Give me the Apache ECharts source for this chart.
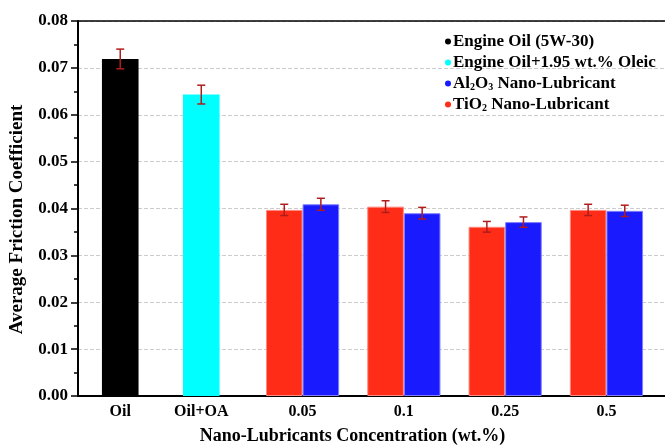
<!DOCTYPE html>
<html>
<head>
<meta charset="utf-8">
<script src="https://cdn.jsdelivr.net/npm/echarts@6/dist/echarts.min.js"></script>
<style>
  html, body { margin: 0; padding: 0; background: #fff; }
  #main { width: 665px; height: 447px; }
</style>
</head>
<body>
<div id="main"></div>
<script>
// category labels and where they sit on the x axis (Oil and Oil+OA are closer together)
var categories = ['Oil', 'Oil+OA', '0.05', '0.1', '0.25', '0.5'];
var catPos = [0.2, 1, 2, 3, 4, 5];

// average friction coefficient, with error (half-range)
var oilValue = [0.0719];
var oilErr = [0.0021];
var oaValue = [0.0643];
var oaErr = [0.0020];
var tioValue = [0.0397, 0.0404, 0.0361, 0.0397];
var tioErr = [0.0012, 0.00125, 0.00114, 0.0012];
var alValue = [0.0409, 0.0390, 0.0371, 0.0395];
var alErr = [0.00128, 0.00124, 0.0011, 0.0012];

var barW = 36.6;
var xMin = -0.217, xMax = 5.578;
var font = 'Liberation Serif';

function pts(pos, vals, errs) {
    var out = [];
    for (var i = 0; i < vals.length; i++) {
        out.push([pos[i], vals[i], errs[i]]);
    }
    return out;
}
var nanoPos = catPos.slice(2);

function errSeries(data, off) {
    return {
        type: 'custom',
        xAxisIndex: 0,
        z: 10,
        silent: true,
        data: data,
        renderItem: function(params, api) {
            var x = api.value(0), y = api.value(1), e = api.value(2);
            var hi = api.coord([x, y + e]);
            var lo = api.coord([x, y - e]);
            var cx = hi[0] + off;
            var st = { stroke: '#b01c1c', lineWidth: 1.5 };
            return {
                type: 'group',
                children: [
                    { type: 'line', shape: { x1: cx, y1: hi[1], x2: cx, y2: lo[1] }, style: st },
                    { type: 'line', shape: { x1: cx - 4, y1: hi[1], x2: cx + 4, y2: hi[1] }, style: st },
                    { type: 'line', shape: { x1: cx - 4, y1: lo[1], x2: cx + 4, y2: lo[1] }, style: st }
                ]
            };
        }
    };
}

function hiddenX(pos) {
    return { type: 'value', min: xMin, max: xMax, show: false, position: pos };
}

var myChart = echarts.init(document.getElementById('main'));
var option = {
    animation: false,
    grid: { left: 78, right: 0, top: 21, bottom: 51, containLabel: false, outerBoundsMode: 'none' },
    legend: {
        orient: 'vertical',
        left: 440,
        top: 28,
        icon: 'circle',
        itemWidth: 6,
        itemHeight: 6,
        itemGap: 4,
        itemStyle: { borderWidth: 0 },
        data: ['Engine Oil (5W-30)', 'Engine Oil+1.95 wt.% Oleic', 'Al2O3 Nano-Lubricant', 'TiO2 Nano-Lubricant'],
        formatter: function(name) {
            if (name == 'Al2O3 Nano-Lubricant') return '{n|Al}{s|2}{n|O}{s|3}{n| Nano-Lubricant}';
            if (name == 'TiO2 Nano-Lubricant') return '{n|TiO}{s|2}{n| Nano-Lubricant}';
            return '{n|' + name + '}';
        },
        textStyle: {
            fontFamily: font,
            fontWeight: 'bold',
            fontSize: 17,
            color: '#000',
            padding: [0, 0, 0, -3],
            rich: {
                n: { fontFamily: font, fontWeight: 'bold', fontSize: 17, lineHeight: 17, color: '#000' },
                s: { fontFamily: font, fontWeight: 'bold', fontSize: 10, lineHeight: 10, color: '#000', verticalAlign: 'bottom', padding: [7, 0, 0, 0] }
            }
        }
    },
    xAxis: [
        {
            type: 'value',
            min: xMin,
            max: xMax,
            name: 'Nano-Lubricants Concentration (wt.%)',
            nameLocation: 'middle',
            nameGap: 31,
            nameTextStyle: { fontFamily: font, fontWeight: 'bold', fontSize: 18, color: '#000', padding: [0, 38, 0, 0] },
            axisLine: { show: true, onZero: false, lineStyle: { color: '#000', width: 2 } },
            axisTick: { show: false },
            splitLine: { show: false },
            axisLabel: {
                customValues: catPos,
                margin: 8,
                fontFamily: font,
                fontWeight: 'bold',
                fontSize: 16,
                color: '#000',
                formatter: function(v) {
                    var i = catPos.indexOf(v);
                    return i >= 0 ? categories[i] : '';
                }
            }
        },
        hiddenX('bottom'),
        hiddenX('bottom'),
        {
            type: 'value',
            min: xMin,
            max: xMax,
            position: 'top',
            axisLine: { show: true, onZero: false, lineStyle: { color: '#000', width: 1.5 } },
            axisTick: { show: false },
            axisLabel: { show: false },
            splitLine: { show: false }
        }
    ],
    yAxis: {
        type: 'value',
        min: 0,
        max: 0.08,
        interval: 0.01,
        name: 'Average Friction Coefficient',
        nameLocation: 'middle',
        nameGap: 51,
        nameTextStyle: { fontFamily: font, fontWeight: 'bold', fontSize: 19, color: '#000', padding: [0, 22, 0, 0] },
        axisLine: { show: true, onZero: false, lineStyle: { color: '#000', width: 2 } },
        axisTick: { show: true, length: 7, lineStyle: { color: '#000', width: 1.5 } },
        minorTick: { show: true, splitNumber: 2, length: 4, lineStyle: { color: '#000', width: 1.5 } },
        splitLine: { show: true, lineStyle: { color: '#cccccc', type: 'dashed', width: 1 } },
        axisLabel: {
            margin: 10,
            fontFamily: font,
            fontWeight: 'bold',
            fontSize: 17,
            color: '#000',
            formatter: function(v) { return v.toFixed(2); }
        }
    },
    series: [
        {
            name: 'Engine Oil (5W-30)', type: 'bar', xAxisIndex: 1, barWidth: barW,
            itemStyle: { color: '#000000' },
            data: pts([catPos[0]], oilValue, oilErr)
        },
        {
            name: 'Engine Oil+1.95 wt.% Oleic', type: 'bar', xAxisIndex: 2, barWidth: barW,
            itemStyle: { color: '#00ffff' },
            data: pts([catPos[1]], oaValue, oaErr)
        },
        {
            name: 'TiO2 Nano-Lubricant', type: 'bar', xAxisIndex: 0, barWidth: barW,
            itemStyle: { color: '#ff2d17', borderColor: '#ff8a80', borderWidth: 1 },
            data: pts(nanoPos, tioValue, tioErr)
        },
        {
            name: 'Al2O3 Nano-Lubricant', type: 'bar', xAxisIndex: 0, barWidth: barW, barGap: '0%',
            itemStyle: { color: '#1a1aff', borderColor: '#8080ff', borderWidth: 1 },
            data: pts(nanoPos, alValue, alErr)
        },
        errSeries(pts([catPos[0]], oilValue, oilErr), 0),
        errSeries(pts([catPos[1]], oaValue, oaErr), 0),
        errSeries(pts(nanoPos, tioValue, tioErr), -barW / 2),
        errSeries(pts(nanoPos, alValue, alErr), barW / 2)
    ]
};
myChart.setOption(option);
</script>
</body>
</html>
